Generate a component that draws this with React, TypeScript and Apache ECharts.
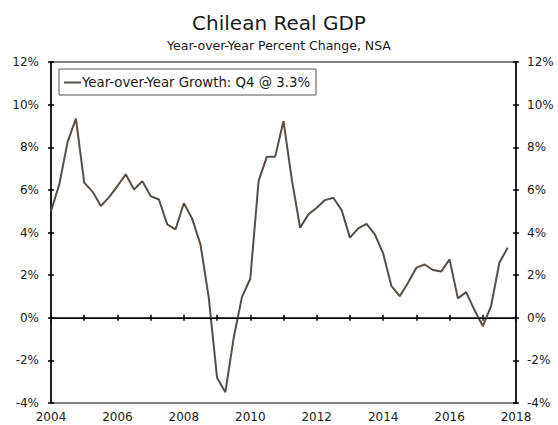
import React, { useEffect, useRef } from "react";
import * as echarts from "echarts";

const title = "Chilean Real GDP";
const subtitle = "Year-over-Year Percent Change, NSA";
const seriesName = "Year-over-Year Growth: Q4 @ 3.3%";

const years = [2004, 2005, 2006, 2007, 2008, 2009, 2010, 2011, 2012, 2013, 2014, 2015, 2016, 2017];
const quarterOffsets = [0, 0.25, 0.5, 0.75];

// Quarterly YoY growth (%), Q1..Q4 for each year
const growth = [
  5.0, 6.26, 8.25, 9.34,
  6.34, 5.92, 5.24, 5.66,
  6.18, 6.73, 6.02, 6.41,
  5.71, 5.55, 4.38, 4.15,
  5.37, 4.65, 3.44, 0.94,
  -2.82, -3.49, -0.94, 0.98,
  1.83, 6.41, 7.56, 7.56,
  9.23, 6.49, 4.22, 4.85,
  5.16, 5.52, 5.63, 5.05,
  3.76, 4.19, 4.41, 3.91,
  3.02, 1.48, 1.01, 1.64,
  2.35, 2.5, 2.24, 2.17,
  2.74, 0.91, 1.2, 0.36,
  -0.39, 0.55, 2.58, 3.29,
];

const xMin = 2004;
const xMax = 2018;
const yMin = -4;
const yMax = 12;
const yInterval = 2;

const FONT = "DejaVu Sans";
const LINE_COLOR = "#5a4e44";

export default function App() {
  const ref = useRef<HTMLDivElement>(null);

  useEffect(() => {
    if (!ref.current) return;
    const chart = echarts.init(ref.current, null, { renderer: "svg" });

    const points: [number, number][] = [];
    years.forEach((y, yi) => {
      quarterOffsets.forEach((q, qi) => {
        points.push([y + q, growth[yi * 4 + qi]]);
      });
    });

    const axisLine = { show: true, lineStyle: { color: "#000", width: 1.5 } };
    const tickStyle = { color: "#000", width: 1.5 };
    const labelStyle = { color: "#1a1a1a", fontFamily: FONT, fontSize: 12 };

    const xBase = {
      type: "value" as const,
      min: xMin,
      max: xMax,
      interval: 1,
      position: "bottom" as const,
      splitLine: { show: false },
    };
    const yBase = {
      type: "value" as const,
      min: yMin,
      max: yMax,
      interval: yInterval,
      splitLine: { show: false },
    };

    chart.setOption({
      animation: false,
      backgroundColor: "#fff",
      title: [
        {
          text: title,
          left: "center",
          top: 8,
          textStyle: { fontFamily: FONT, fontSize: 20, fontWeight: "normal", color: "#1a1a1a" },
        },
        {
          text: subtitle,
          left: "center",
          top: 34,
          textStyle: { fontFamily: FONT, fontSize: 12.5, fontWeight: "normal", color: "#1a1a1a" },
        },
      ],
      legend: {
        left: 59,
        top: 69,
        orient: "horizontal",
        borderColor: "#555",
        borderWidth: 1,
        padding: [7, 6, 6, 5],
        icon: "rect",
        itemWidth: 17,
        itemHeight: 2,
        textStyle: { fontFamily: FONT, fontSize: 13.3, color: "#1a1a1a", padding: [0, 0, 0, -4] },
        data: [seriesName],
      },
      grid: {
        left: 51,
        right: 42,
        top: 62,
        bottom: 22,
        show: true,
        borderColor: "#000",
        borderWidth: 1,
        backgroundColor: "transparent",
      },
      xAxis: [
        {
          ...xBase,
          axisLine,
          axisTick: { show: true, inside: false, length: 3, lineStyle: tickStyle },
          axisLabel: {
            ...labelStyle,
            margin: 8,
            formatter: (v: number) => (v % 2 === 0 ? String(v) : ""),
          },
        },
        {
          ...xBase,
          axisLine: { show: false },
          axisTick: { show: true, inside: true, length: 3, lineStyle: tickStyle },
          axisLabel: { show: false },
        },
      ],
      yAxis: [
        {
          ...yBase,
          position: "left",
          axisLine,
          axisTick: { show: true, inside: false, length: 3, lineStyle: tickStyle },
          axisLabel: { ...labelStyle, margin: 12, formatter: "{value}%" },
        },
        {
          ...yBase,
          position: "right",
          axisLine,
          axisTick: { show: true, inside: false, length: 3, lineStyle: tickStyle },
          axisLabel: { ...labelStyle, margin: 11, formatter: "{value}%" },
        },
        {
          ...yBase,
          position: "left",
          axisLine: { show: false },
          axisTick: { show: true, inside: true, length: 3, lineStyle: tickStyle },
          axisLabel: { show: false },
        },
        {
          ...yBase,
          position: "right",
          axisLine: { show: false },
          axisTick: { show: true, inside: true, length: 3, lineStyle: tickStyle },
          axisLabel: { show: false },
        },
      ],
      series: [
        {
          name: seriesName,
          type: "line",
          xAxisIndex: 0,
          yAxisIndex: 0,
          data: points,
          symbol: "none",
          lineStyle: { color: LINE_COLOR, width: 2 },
          itemStyle: { color: LINE_COLOR },
          markLine: {
            silent: true,
            symbol: "none",
            label: { show: false },
            lineStyle: { color: "#000", width: 1, type: "solid" },
            data: [{ yAxis: 0 }],
          },
        },
      ],
    });

    return () => chart.dispose();
  }, []);

  return (
    <div
      ref={ref}
      style={{ position: "fixed", left: 0, top: 0, width: 558, height: 425 }}
    />
  );
}
